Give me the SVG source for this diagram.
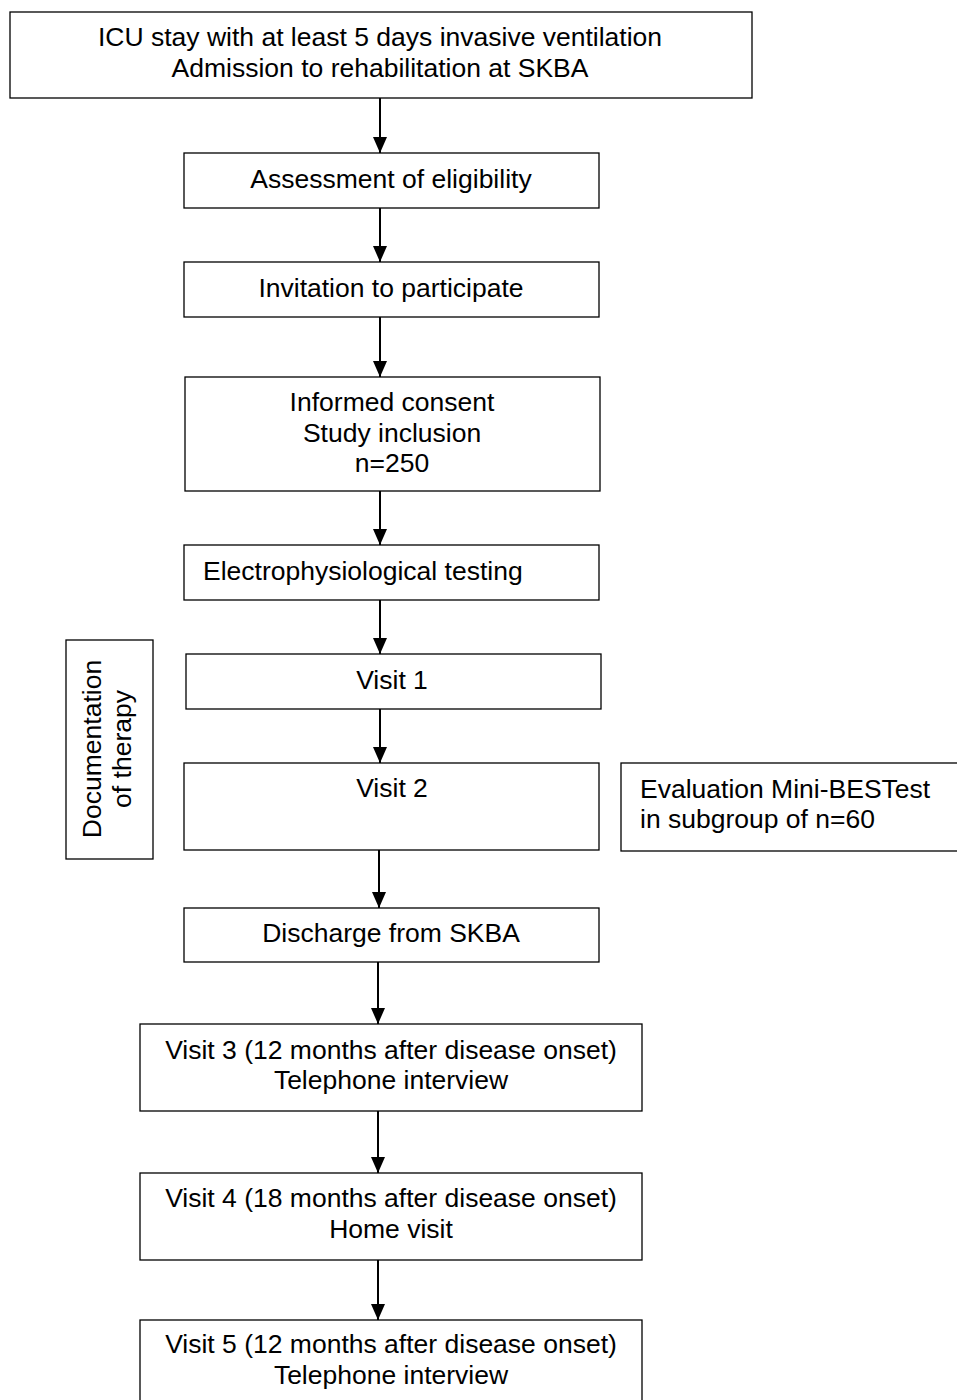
<svg xmlns="http://www.w3.org/2000/svg" width="957" height="1400" viewBox="0 0 957 1400">
<defs>
<marker id="ah" markerWidth="16" markerHeight="14" refX="16" refY="7" orient="auto" markerUnits="userSpaceOnUse">
<path d="M0,0 L16,7 L0,14 Z" fill="#000"/>
</marker>
<style>
.b{fill:#fff;stroke:#000;stroke-width:1.3}
.t{font-family:"Liberation Sans",Arial,sans-serif;font-size:26.5px;fill:#000}
.c{text-anchor:middle}
.l{stroke:#000;stroke-width:2;fill:none}
</style>
</defs>
<rect width="957" height="1400" fill="#fff"/>
<g id="connectors">
<line class="l" x1="380" y1="98" x2="380" y2="153" marker-end="url(#ah)"/>
<line class="l" x1="380" y1="208" x2="380" y2="262" marker-end="url(#ah)"/>
<line class="l" x1="380" y1="317" x2="380" y2="377" marker-end="url(#ah)"/>
<line class="l" x1="380" y1="491" x2="380" y2="545" marker-end="url(#ah)"/>
<line class="l" x1="380" y1="600" x2="380" y2="654" marker-end="url(#ah)"/>
<line class="l" x1="380" y1="709" x2="380" y2="763" marker-end="url(#ah)"/>
<line class="l" x1="379" y1="850" x2="379" y2="908" marker-end="url(#ah)"/>
<line class="l" x1="378" y1="962" x2="378" y2="1024" marker-end="url(#ah)"/>
<line class="l" x1="378" y1="1111" x2="378" y2="1173" marker-end="url(#ah)"/>
<line class="l" x1="378" y1="1260" x2="378" y2="1320" marker-end="url(#ah)"/>
</g>
<g id="n1"><rect class="b" x="10" y="12" width="742" height="86"/>
<text class="t c" x="380" y="46">ICU stay with at least 5 days invasive ventilation</text>
<text class="t c" x="380" y="77">Admission to rehabilitation at SKBA</text></g>
<g id="n2"><rect class="b" x="184" y="153" width="415" height="55"/>
<text class="t c" x="391" y="188">Assessment of eligibility</text></g>
<g id="n3"><rect class="b" x="184" y="262" width="415" height="55"/>
<text class="t c" x="391" y="297">Invitation to participate</text></g>
<g id="n4"><rect class="b" x="185" y="377" width="415" height="114"/>
<text class="t c" x="392" y="411">Informed consent</text>
<text class="t c" x="392" y="442">Study inclusion</text>
<text class="t c" x="392" y="472">n=250</text></g>
<g id="n5"><rect class="b" x="184" y="545" width="415" height="55"/>
<text class="t" x="203" y="580">Electrophysiological testing</text></g>
<g id="n6"><rect class="b" x="186" y="654" width="415" height="55"/>
<text class="t c" x="392" y="689">Visit 1</text></g>
<g id="n7"><rect class="b" x="184" y="763" width="415" height="87"/>
<text class="t c" x="392" y="797">Visit 2</text></g>
<g id="n8"><rect class="b" x="621" y="763" width="340" height="88"/>
<text class="t" x="640" y="798">Evaluation Mini-BESTest</text>
<text class="t" x="640" y="828">in subgroup of n=60</text></g>
<g id="n9"><rect class="b" x="66" y="640" width="87" height="219"/>
<text class="t c" transform="translate(101,749) rotate(-90)">Documentation</text>
<text class="t c" transform="translate(131,749) rotate(-90)">of therapy</text></g>
<g id="n10"><rect class="b" x="184" y="908" width="415" height="54"/>
<text class="t c" x="391" y="942">Discharge from SKBA</text></g>
<g id="n11"><rect class="b" x="140" y="1024" width="502" height="87"/>
<text class="t c" x="391" y="1059">Visit 3 (12 months after disease onset)</text>
<text class="t c" x="391" y="1089">Telephone interview</text></g>
<g id="n12"><rect class="b" x="140" y="1173" width="502" height="87"/>
<text class="t c" x="391" y="1207">Visit 4 (18 months after disease onset)</text>
<text class="t c" x="391" y="1238">Home visit</text></g>
<g id="n13"><rect class="b" x="140" y="1320" width="502" height="100"/>
<text class="t c" x="391" y="1353">Visit 5 (12 months after disease onset)</text>
<text class="t c" x="391" y="1384">Telephone interview</text></g>
</svg>
